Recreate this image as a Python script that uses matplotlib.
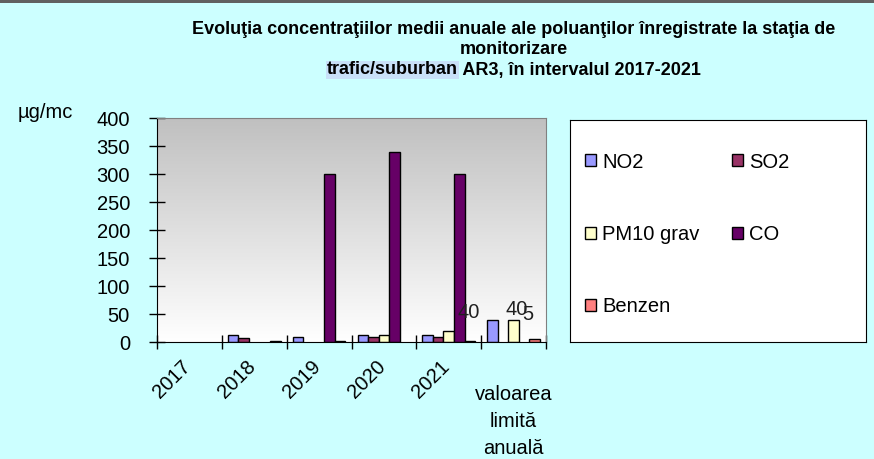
import numpy as np
import matplotlib
matplotlib.use("Agg")
import matplotlib.pyplot as plt
from matplotlib import transforms
from matplotlib.colors import LinearSegmentedColormap
from matplotlib.patches import Rectangle

plt.rcParams["font.family"] = ["Liberation Sans", "DejaVu Sans"]

categories = ["2017", "2018", "2019", "2020", "2021", "valoarea\nlimită\nanuală"]
series = ["NO2", "SO2", "PM10 grav", "CO", "Benzen"]
no2 = [np.nan, 12, 9, 12, 12, 40]
so2 = [np.nan, 7, np.nan, 9, 9, np.nan]
pm10 = [np.nan, np.nan, np.nan, 12, 20, 40]
co = [np.nan, np.nan, 300, 340, 300, np.nan]
benzen = [np.nan, 2, 2, np.nan, 2, 5]
colors = ["#9999ff", "#993366", "#ffffcc", "#660066", "#ff8080"]

W, H = 874, 459
BG = "#ccffff"
FS = 14.5
fig = plt.figure(figsize=(W / 100, H / 100), dpi=100, facecolor=BG)
fig.add_artist(Rectangle((0, 1 - 3 / H), 1, 3 / H, transform=fig.transFigure,
                         color="#606060", lw=0))

ax = fig.add_axes([157 / W, (H - 342) / H, 389 / W, 224 / H])
grad = np.linspace(0, 1, 256).reshape(-1, 1)
cmap = LinearSegmentedColormap.from_list("bg", ["#ffffff", "#c0c0c0"])
ax.imshow(grad, extent=[0, 1, 0, 1], transform=ax.transAxes, aspect="auto",
          cmap=cmap, origin="lower", zorder=0)

x = np.arange(len(categories))
w = 0.162
data = [no2, so2, pm10, co, benzen]
bars = []
for i, (vals, c, name) in enumerate(zip(data, colors, series)):
    b = ax.bar(x + (i - 2) * w, vals, w, color=c, edgecolor="black", lw=1,
               label=name, zorder=2)
    bars.append(b)

# data labels on the limit values (Excel put them a bit off the bars)
lim = len(categories) - 1
lab = dict(textcoords="offset points", ha="center", va="center", fontsize=FS,
           color="#202020", zorder=3)
ax.annotate("40", (x[lim] - 2 * w, no2[lim]), xytext=(-17, 5), **lab)
ax.annotate("40", (x[lim], pm10[lim]), xytext=(2, 7), **lab)
ax.annotate("5", (x[lim] + 2 * w, benzen[lim]), xytext=(-5, 18), **lab)

ax.set_xlim(-0.5, len(categories) - 0.5)
ax.set_ylim(0, 400)
ax.set_yticks(np.arange(0, 401, 50))
ax.tick_params(axis="y", direction="inout", length=11, width=1, labelsize=FS, pad=14)
ax.set_xticks(np.arange(-0.5, len(categories)), labels=[])
ax.tick_params(axis="x", which="major", direction="inout", length=10, width=1)
ax.set_xticks(x[:-1], labels=categories[:-1], minor=True, rotation=45,
              ha="right", va="top", fontsize=FS)
ax.tick_params(axis="x", which="minor", length=0, pad=11)
shift = transforms.ScaledTranslation(5 / 100, 0, fig.dpi_scale_trans)
for t in ax.get_xticklabels(minor=True):
    t.set_transform(t.get_transform() + shift)
tr = transforms.blended_transform_factory(ax.transData, ax.transAxes)
ax.text(x[lim], -0.19, categories[lim], transform=tr, ha="center", va="top",
        fontsize=FS, linespacing=1.55)

for s in ["top", "right"]:
    ax.spines[s].set_color("#808080")
for s in ["left", "bottom"]:
    ax.spines[s].set_color("black")

fig.text(18 / W, 1 - 112 / H, "µg/mc", ha="left", va="center", fontsize=FS)

# title
TFS = 13
tkw = dict(ha="center", va="center", fontsize=TFS, fontweight="bold")
fig.text(514 / W, 1 - 30 / H, "Evoluţia concentraţiilor medii anuale ale poluanţilor "
         "înregistrate la staţia de", **tkw)
fig.text(514 / W, 1 - 49 / H, "monitorizare", **tkw)
fig.canvas.draw()
r = fig.canvas.get_renderer()
probe_a = fig.text(0, 0, "trafic/suburban", fontsize=TFS, fontweight="bold")
probe_b = fig.text(0, 0, " AR3, în intervalul 2017-2021", fontsize=TFS, fontweight="bold")
wa = probe_a.get_window_extent(r).width
wb = probe_b.get_window_extent(r).width
probe_a.remove(); probe_b.remove()
x0 = 514 - (wa + wb) / 2
fig.text(x0 / W, 1 - 70 / H, "trafic/suburban", ha="left", va="center", fontsize=TFS,
         fontweight="bold", bbox=dict(boxstyle="square,pad=0.05", fc="#c8e0f8", ec="none"))
fig.text((x0 + wa) / W, 1 - 70 / H, " AR3, în intervalul 2017-2021", ha="left",
         va="center", fontsize=TFS, fontweight="bold")

# legend box (row-major order like the original)
lax = fig.add_axes([570 / W, (H - 342) / H, 296 / W, 222 / H])
lax.set_xticks([]); lax.set_yticks([])
for s in lax.spines.values():
    s.set_color("black")
order = [0, 2, 4, 1, 3]
lax.legend([bars[i] for i in order], [series[i] for i in order], ncol=2,
           loc="upper left", bbox_to_anchor=(-0.01, 0.935), frameon=False,
           fontsize=FS, handlelength=0.55, handleheight=0.55, handletextpad=0.3,
           labelspacing=2.65, columnspacing=1.6)

fig.savefig("out.png", dpi=100, facecolor=BG)
